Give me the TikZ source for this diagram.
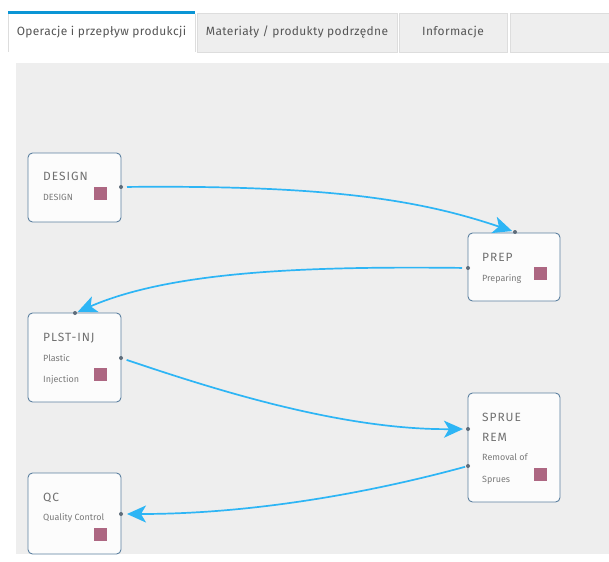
\documentclass[tikz,border=0pt]{standalone}
\usepackage{fontspec}
\setmainfont{Fira Sans}
\usetikzlibrary{arrows.meta}
\definecolor{canvasgray}{HTML}{EEEEEE}
\definecolor{tabgray}{HTML}{EEEEEE}
\definecolor{tabline}{HTML}{DDDDDD}
\definecolor{tabblue}{HTML}{0A95D5}
\definecolor{tabtext}{HTML}{555555}
\definecolor{nodeborder}{HTML}{5C80A0}
\definecolor{nodefill}{HTML}{FCFCFC}
\definecolor{marker}{HTML}{AD6782}
\definecolor{titletext}{HTML}{707070}
\definecolor{subtext}{HTML}{7A7A7A}
\definecolor{edgeblue}{HTML}{2DB5F5}
\definecolor{portgray}{HTML}{5E6C7A}
\tikzset{
  opbox/.style={draw=nodeborder, line width=0.9bp, fill=nodefill, rounded corners=4.5bp},
  markbox/.style={fill=marker},
  optitle/.style={anchor=base west, inner sep=0pt, text=titletext, font=\fontsize{12}{14}\selectfont\addfontfeature{LetterSpace=8}},
  opsub/.style={anchor=base west, inner sep=0pt, text=subtext, font=\fontsize{9}{10}\selectfont},
  tabtxt/.style={inner sep=0pt, text=tabtext, font=\fontsize{12}{15}\selectfont\addfontfeature{LetterSpace=3}},
  portdot/.style={fill=portgray, circle, inner sep=0pt, minimum size=4bp},
  flow/.style={draw=edgeblue, line width=1.7bp, -{Stealth[length=19bp, width=17bp, inset=5bp]}}
}
\begin{document}
\begin{tikzpicture}[x=1bp, y=-1bp]
\useasboundingbox (0,0) rectangle (609,562);
\fill[white] (0,0) rectangle (609,562);
% tabs
\fill[white] (8,12) rectangle (195,53);
\draw[tabline] (8,14) -- (8,52);
\draw[tabline] (195,14) -- (195,52);
\fill[tabblue] (8,11) rectangle (195,14);
\node[tabtxt] (tab1) at (101.5,32) {Operacje i przepływ produkcji};
\filldraw[fill=tabgray, draw=tabline] (197,13) rectangle (397,52);
\node[tabtxt] (tab2) at (297,32) {Materiały / produkty podrzędne};
\filldraw[fill=tabgray, draw=tabline] (399,13) rectangle (507,52);
\node[tabtxt] (tab3) at (453,32) {Informacje};
\filldraw[fill=tabgray, draw=tabline] (510,13) rectangle (615,52);
% canvas
\fill[canvasgray] (16,63) rectangle (609,554);

% DESIGN
\draw[opbox] (28,153) rectangle (121,222);
\fill[markbox] (94,187) rectangle (107,200);
\node[optitle] (t1) at (43,181) {DESIGN};
\node[opsub] (s1) at (43,201) {DESIGN};
\node[portdot] (d-out) at (121,187) {};

% PREP
\draw[opbox] (468,233) rectangle (560,301);
\fill[markbox] (534,267) rectangle (547,280);
\node[optitle] (t2) at (482,261) {PREP};
\node[opsub] (s2) at (482,281) {Preparing};
\node[portdot] (p-in) at (515,232) {};
\node[portdot] (p-out) at (468,268) {};

% PLST-INJ
\draw[opbox] (28,313) rectangle (121,402);
\fill[markbox] (94,368) rectangle (107,381);
\node[optitle] (t3) at (43,341) {PLST-INJ};
\node[opsub] (s3a) at (43,361) {Plastic};
\node[opsub] (s3b) at (43,382) {Injection};
\node[portdot] (i-in) at (75,313) {};
\node[portdot] (i-out) at (121,358) {};

% SPRUE REM
\draw[opbox] (468,393) rectangle (560,502);
\fill[markbox] (534,468) rectangle (547,481);
\node[optitle] (t4a) at (482,421) {SPRUE};
\node[optitle] (t4b) at (482,441) {REM};
\node[opsub] (s4a) at (482,460) {Removal of};
\node[opsub] (s4b) at (482,482) {Sprues};
\node[portdot] (r-in) at (468,429) {};
\node[portdot] (r-out) at (468,466) {};

% QC
\draw[opbox] (28,473) rectangle (121,554);
\fill[markbox] (94,528) rectangle (107,541);
\node[optitle] (t5) at (43,501) {QC};
\node[opsub] (s5) at (43,520) {Quality Control};
\node[portdot] (q-in) at (121,514) {};

% connectors
\draw[flow, shorten <=6bp, shorten >=3bp] (d-out.center) .. controls (330,185) and (420,200) .. (p-in.center);
\draw[flow, shorten <=6bp, shorten >=3bp] (p-out.center) .. controls (300,266) and (170,272) .. (i-in.center);
\draw[flow, shorten <=6bp, shorten >=5bp] (i-out.center) .. controls (210,388) and (340,430) .. (r-in.center);
\draw[flow, shorten <=3bp, shorten >=6bp] (r-out.center) .. controls (380,490) and (260,514) .. (q-in.center);
\end{tikzpicture}
\end{document}
